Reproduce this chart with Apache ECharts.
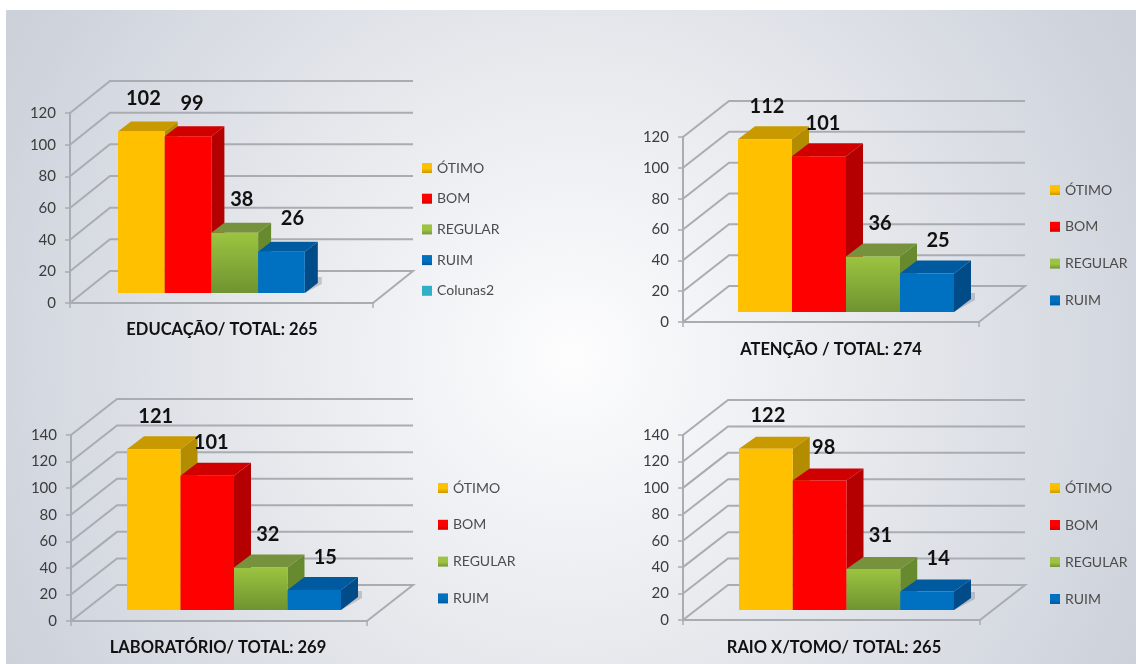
<!DOCTYPE html>
<html>
<head>
<meta charset="utf-8">
<style>
  html, body { margin: 0; padding: 0; background: #fff; }
  #chart { width: 1136px; height: 664px; }
</style>
<script src="https://cdn.jsdelivr.net/npm/echarts@6/dist/echarts.min.js"></script>
</head>
<body>
<div id="chart"></div>
<script>
const categories = ['ÓTIMO', 'BOM', 'REGULAR', 'RUIM']
const emptyCategory = 'Colunas2'

const educacaoValues = [102, 99, 38, 26]
const atencaoValues = [112, 101, 36, 25]
const laboratorioValues = [121, 101, 32, 15]
const raioxValues = [122, 98, 31, 14]

const ticks120 = [0, 20, 40, 60, 80, 100, 120]
const ticks140 = [0, 20, 40, 60, 80, 100, 120, 140]

const FONT = 'Lato, "Open Sans", sans-serif'
const GRID_LINE = '#a9acb1'

// front face, side and top of each bar
const barColors = [
  { front: '#ffc000', side: '#b48c00', top: '#c89a00' },
  { front: '#ff0000', side: '#b40000', top: '#d00000' },
  { front: ['#9cc440', '#6f9330'], side: '#688a2e', top: '#76923c' },
  { front: '#0070c0', side: '#004b88', top: '#005aa0' },
]
// value labels drift right with the bars' perspective
const labelShiftX = [2, 4, 7, 11]
const labelShiftY = -33

const panels = [
  { title: 'EDUCAÇÃO/ TOTAL: 265', values: educacaoValues, ticks: ticks120, extra: true,
    left: 70, right: 373, top: 113, bottom: 303, dx: 40, dy: -32, barLeft: 118, barW: 46.7, lift: 10, bx: 13, by: -10,
    titleX: 222, titleY: 321, legendX: 422, legendY: 161, legendRow: 30.7 },
  { title: 'ATENÇÃO / TOTAL: 274', values: atencaoValues, ticks: ticks120,
    left: 683, right: 979, top: 137, bottom: 322, dx: 46, dy: -36, barLeft: 738, barW: 54, lift: 10, bx: 17, by: -13,
    titleX: 831, titleY: 341, legendX: 1050, legendY: 183, legendRow: 36.8 },
  { title: 'LABORATÓRIO/ TOTAL: 269', values: laboratorioValues, ticks: ticks140,
    left: 71, right: 367, top: 435, bottom: 621, dx: 46, dy: -36, barLeft: 127, barW: 53.5, lift: 11, bx: 17, by: -13,
    titleX: 218, titleY: 639, legendX: 438, legendY: 481, legendRow: 36.8 },
  { title: 'RAIO X/TOMO/ TOTAL: 265', values: raioxValues, ticks: ticks140,
    left: 683, right: 980, top: 435, bottom: 620, dx: 45, dy: -35, barLeft: 739, barW: 53.75, lift: 10, bx: 17, by: -12,
    titleX: 834, titleY: 639, legendX: 1050, legendY: 481, legendRow: 37 },
]

function frontFill(c) {
  if (!Array.isArray(c)) return c
  return new echarts.graphic.LinearGradient(0, 0, 0, 1, [
    { offset: 0, color: c[0] },
    { offset: 1, color: c[1] },
  ])
}

function legendFill(c) {
  const front = Array.isArray(c.front) ? c.front[0] : c.front
  return new echarts.graphic.LinearGradient(0, 0, 0, 1, [
    { offset: 0, color: front },
    { offset: 0.55, color: front },
    { offset: 1, color: c.top },
  ])
}

// back wall lines, side lines and floor edge, one data row per tick
function wallRenderer(p, xMax) {
  return (params, api) => {
    const v = api.value(0)
    const a = api.coord([0, v])
    const b = [a[0] + p.dx, a[1] + p.dy]
    const c = [api.coord([xMax, v])[0] + p.dx, b[1]]
    const points = [a, b, c]
    if (v === 0) points.push(api.coord([xMax, 0]))
    return {
      type: 'polyline',
      shape: { points },
      style: { fill: null, stroke: GRID_LINE, lineWidth: 2 },
      silent: true,
    }
  }
}

function barRenderer(p, i) {
  const color = barColors[i]
  return (params, api) => {
    const x = api.value(0)
    const v = api.value(1)
    const base0 = api.coord([x, 0])
    const base1 = api.coord([x + 1, 0])
    const top0 = api.coord([x, v])
    const l = base0[0], r = base1[0]
    const yb = base0[1] - p.lift
    const yt = top0[1] - p.lift
    return {
      type: 'group',
      children: [
        { type: 'polygon', silent: true,
          shape: { points: [[r, yb], [r + p.bx + 4, yb + p.by + 1], [r + p.bx + 4, yb + p.by - 6], [r + p.bx, yb + p.by - 6]] },
          style: { fill: 'rgba(90,95,105,0.28)' } },
        { type: 'polygon',
          shape: { points: [[r, yt], [r + p.bx, yt + p.by], [r + p.bx, yb + p.by], [r, yb]] },
          style: { fill: color.side } },
        { type: 'polygon',
          shape: { points: [[l, yt], [l + p.bx, yt + p.by], [r + p.bx, yt + p.by], [r, yt]] },
          style: { fill: color.top } },
        { type: 'rect',
          shape: { x: l, y: yt, width: r - l, height: yb - yt },
          style: { fill: frontFill(color.front) } },
        { type: 'text',
          style: {
            text: String(v),
            x: (l + r) / 2 + labelShiftX[i],
            y: yt + labelShiftY,
            align: 'center',
            verticalAlign: 'middle',
            font: 'bold 20px ' + FONT,
            fill: '#111',
          },
          z2: 100,
        },
      ],
    }
  }
}

const grid = [], xAxis = [], yAxis = [], series = [], title = [], legend = []

panels.forEach((p, n) => {
  const width = p.right - p.left
  const xMax = width / p.barW
  const barStart = (p.barLeft - p.left) / p.barW
  const yMax = p.ticks[p.ticks.length - 1]

  grid.push({ left: p.left, top: p.top, width, height: p.bottom - p.top })
  xAxis.push({
    gridIndex: n, type: 'value', min: 0, max: xMax, interval: xMax,
    axisLine: { show: true, lineStyle: { color: GRID_LINE, width: 2 } },
    axisTick: { show: true, length: 5, lineStyle: { color: GRID_LINE, width: 1.5 } },
    axisLabel: { show: false },
    splitLine: { show: false },
  })
  yAxis.push({
    gridIndex: n, type: 'value', min: 0, max: yMax, interval: 20,
    axisLine: { show: true, lineStyle: { color: GRID_LINE, width: 2 } },
    axisTick: { show: true, length: 5, lineStyle: { color: GRID_LINE, width: 1.5 } },
    axisLabel: { color: '#3c3c3c', fontFamily: FONT, fontSize: 15, margin: 14 },
    splitLine: { show: false },
  })

  series.push({
    type: 'custom',
    xAxisIndex: n, yAxisIndex: n,
    data: p.ticks.map(t => [t]),
    renderItem: wallRenderer(p, xMax),
    encode: { y: 0 },
    silent: true,
    z: 1,
  })

  categories.forEach((name, i) => {
    series.push({
      type: 'custom',
      name,
      xAxisIndex: n, yAxisIndex: n,
      data: [[barStart + i, p.values[i]]],
      encode: { x: 0, y: 1 },
      renderItem: barRenderer(p, i),
      itemStyle: { color: Array.isArray(barColors[i].front) ? barColors[i].front[0] : barColors[i].front },
      clip: false,
      z: 2 + i,
    })
  })

  title.push({
    text: p.title,
    left: p.titleX,
    top: p.titleY,
    textAlign: 'center',
    textStyle: { fontFamily: FONT, fontSize: 16.5, fontWeight: 'bold', color: '#111' },
    padding: 0,
  })

  const names = p.extra ? categories.concat(emptyCategory) : categories
  legend.push({
    data: names.map((name, i) => ({
      name,
      icon: 'rect',
      itemStyle: { color: i < barColors.length ? legendFill(barColors[i]) : '#2fb0c6' },
    })),
    orient: 'vertical',
    left: p.legendX,
    top: p.legendY,
    padding: 0,
    itemWidth: 10,
    itemHeight: 10,
    itemGap: p.legendRow - 14,
    selectedMode: false,
    textStyle: { fontFamily: FONT, fontSize: 14, color: '#4c4c4c', lineHeight: 14 },
  })
})

// only the first panel lists this one
series.push({
  type: 'custom',
  name: emptyCategory,
  xAxisIndex: 0, yAxisIndex: 0,
  data: [],
  renderItem: () => null,
  itemStyle: { color: '#2fb0c6' },
})

const chart = echarts.init(document.getElementById('chart'), null, { renderer: 'canvas' })
chart.setOption({
  animation: false,
  backgroundColor: '#fff',
  graphic: [{
    type: 'rect',
    z: -10,
    silent: true,
    shape: { x: 6, y: 10, width: 1130, height: 654 },
    style: {
      fill: new echarts.graphic.RadialGradient(0.5, 0.53, 0.98, [
        { offset: 0, color: '#fdfdfe' },
        { offset: 0.45, color: '#e8eaee' },
        { offset: 1, color: '#ccd1da' },
      ]),
    },
  }],
  title, legend, grid, xAxis, yAxis, series,
})
</script>
</body>
</html>
